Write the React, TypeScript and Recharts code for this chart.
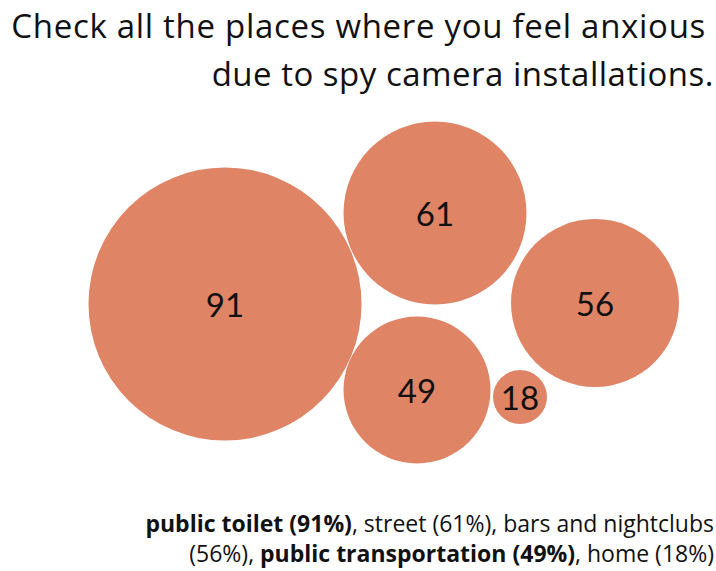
import { ScatterChart, Scatter, XAxis, YAxis } from 'recharts';

// share of respondents (%) per place
const places = ['public toilet', 'street', 'bars and nightclubs', 'public transportation', 'home'];
const values = [91, 61, 56, 49, 18];
// packed-bubble layout (centre of each bubble in chart units)
const bubbleX = [225, 435, 595, 417, 520];
const bubbleY = [267, 358, 268, 181, 174];

const W = 716;
const H = 571;
const PX_PER_POINT = 1.5; // bubble radius grows with the value

const data = values.map((v, i) => ({ name: places[i], value: v, x: bubbleX[i], y: bubbleY[i] }));

const Bubble = (props: any) => {
    const { cx, cy, payload } = props;
    const r = payload.value * PX_PER_POINT;
    return (
        <g>
            <circle cx={cx} cy={cy} r={r} fill="#E08466" />
            <text x={cx} y={cy} textAnchor="middle" dominantBaseline="central" fontSize={33} fill="#111" fontFamily="Lato, sans-serif">
                {payload.value}
            </text>
        </g>
    );
};

const titleStyle = {
    position: 'absolute' as const,
    whiteSpace: 'nowrap' as const,
    fontSize: 33,
    lineHeight: '48px',
    color: '#111',
    fontFamily: '"Open Sans", sans-serif',
    letterSpacing: 0.7,
};

const footStyle = {
    position: 'absolute' as const,
    right: 2,
    whiteSpace: 'nowrap' as const,
    fontSize: 23,
    lineHeight: '30px',
    color: '#111',
    fontFamily: '"Open Sans", sans-serif',
};

const App = () => {
    return (
        <div style={{ position: 'absolute', left: 0, top: 0, width: W, height: H, background: '#fff' }}>
            <div style={{ ...titleStyle, right: 10, top: 2 }}>Check all the places where you feel anxious</div>
            <div style={{ ...titleStyle, right: 2, top: 50, letterSpacing: 0.5 }}>due to spy camera installations.</div>
            <ScatterChart width={W} height={H} margin={{ top: 0, right: 0, bottom: 0, left: 0 }}>
                <XAxis type="number" dataKey="x" domain={[0, W]} hide />
                <YAxis type="number" dataKey="y" domain={[0, H]} hide />
                <Scatter data={data} shape={Bubble} isAnimationActive={false} />
            </ScatterChart>
            <div style={{ ...footStyle, top: 508 }}>
                <b>public toilet (91%)</b>, street (61%), bars and nightclubs
            </div>
            <div style={{ ...footStyle, top: 538 }}>
                (56%), <b>public transportation (49%)</b>, home (18%)
            </div>
        </div>
    );
};

export default App;
